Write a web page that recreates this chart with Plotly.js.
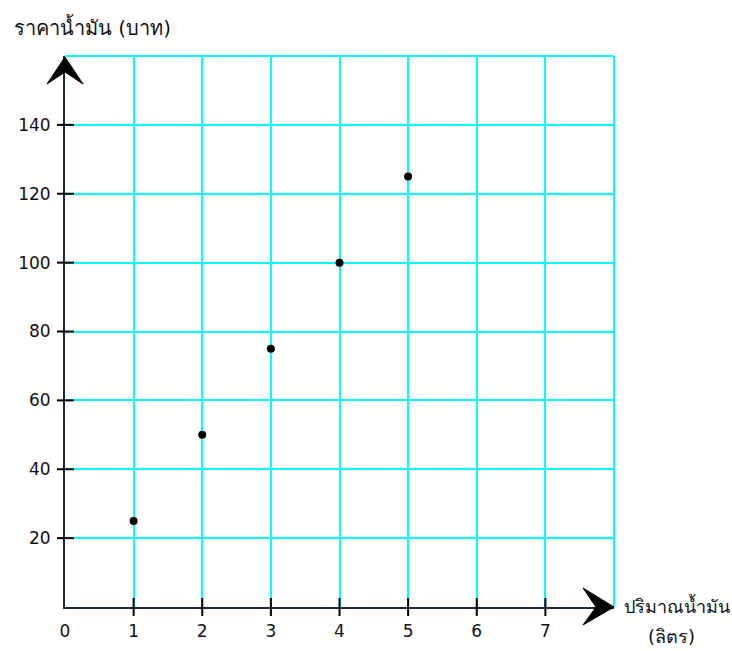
<!DOCTYPE html>
<html>
<head>
<meta charset="utf-8">
<script src="https://cdn.plot.ly/plotly-3.0.1.min.js"></script>
<style>html,body{margin:0;padding:0;background:#fff;}#chart{width:732px;height:651px;}</style>
</head>
<body>
<div id="chart"></div>
<script>
// Data
const liters = [1, 2, 3, 4, 5];
const prices = [25, 50, 75, 100, 125];
const xTickVals = [0, 1, 2, 3, 4, 5, 6, 7, 8];
const xTickText = ['0', '1', '2', '3', '4', '5', '6', '7', ''];
const yTickVals = [20, 40, 60, 80, 100, 120, 140, 160];
const yTickText = ['20', '40', '60', '80', '100', '120', '140', ''];
const xMarkTicks = [1, 2, 3, 4, 5, 6, 7];
const yMarkTicks = [20, 40, 60, 80, 100, 120, 140];
const yTitle = 'ราคาน้ำมัน (บาท)';
const xTitle1 = 'ปริมาณน้ำมัน';
const xTitle2 = '(ลิตร)';

const FONT = 'DejaVu Sans, Noto Sans, sans-serif';
const AXIS_COLOR = '#1c2b3a';
const GRID = '#00ffff';

const shapes = [];
// edge grid lines (top and right of the grid)
shapes.push({type: 'line', xref: 'paper', yref: 'paper', x0: 0, x1: 1, y0: 1, y1: 1,
  line: {color: GRID, width: 2}, layer: 'below'});
shapes.push({type: 'line', xref: 'paper', yref: 'paper', x0: 1, x1: 1, y0: 0, y1: 1,
  line: {color: GRID, width: 2}, layer: 'below'});
xMarkTicks.forEach(v => shapes.push({
  type: 'line', xref: 'x', yref: 'paper', ysizemode: 'pixel', yanchor: 0,
  x0: v, x1: v, y0: -9, y1: 9, line: {color: '#000', width: 2}, layer: 'above'
}));
yMarkTicks.forEach(v => shapes.push({
  type: 'line', xref: 'paper', yref: 'y', xsizemode: 'pixel', xanchor: 0,
  y0: v, y1: v, x0: -8, x1: 9, line: {color: '#000', width: 2}, layer: 'above'
}));
// arrowheads
shapes.push({
  type: 'path', xref: 'paper', yref: 'paper', xsizemode: 'pixel', ysizemode: 'pixel',
  xanchor: 0, yanchor: 1,
  path: 'M0,-1 L-18,-28 L0,-16 L18,-28 Z',
  fillcolor: '#000', line: {color: '#000', width: 1}, layer: 'above'
});
shapes.push({
  type: 'path', xref: 'paper', yref: 'paper', xsizemode: 'pixel', ysizemode: 'pixel',
  xanchor: 1, yanchor: 0,
  path: 'M0,0 L-31,19 L-18,0 L-31,-18 Z',
  fillcolor: '#000', line: {color: '#000', width: 1}, layer: 'above'
});

const data = [{
  type: 'scatter', mode: 'markers', x: liters, y: prices,
  marker: {color: '#000', size: 8}, cliponaxis: false, hoverinfo: 'skip'
}];

const layout = {
  width: 732, height: 651,
  margin: {l: 65, r: 118, t: 56, b: 44},
  paper_bgcolor: '#fff', plot_bgcolor: '#fff',
  showlegend: false,
  font: {family: FONT, size: 17, color: '#111'},
  xaxis: {
    range: [0, 8], tickmode: 'array', tickvals: xTickVals, ticktext: xTickText,
    showgrid: true, gridcolor: GRID, gridwidth: 2, zeroline: false,
    showline: true, linecolor: AXIS_COLOR, linewidth: 2,
    ticks: '', ticklabelstandoff: 8, fixedrange: true,
    tickfont: {family: FONT, size: 17, color: '#111'}
  },
  yaxis: {
    range: [0, 160], tickmode: 'array', tickvals: yTickVals, ticktext: yTickText,
    showgrid: true, gridcolor: GRID, gridwidth: 2, zeroline: false,
    showline: true, linecolor: AXIS_COLOR, linewidth: 2,
    ticks: '', ticklabelstandoff: 9, fixedrange: true,
    tickfont: {family: FONT, size: 17, color: '#111'}
  },
  shapes: shapes,
  annotations: [
    {text: yTitle, xref: 'paper', yref: 'paper', x: -0.0965, y: 1.0526,
     xanchor: 'left', yanchor: 'middle', showarrow: false,
     font: {family: FONT, size: 20, color: '#111'}},
    {text: xTitle1, xref: 'paper', yref: 'paper', x: 1.0146, y: 0.002,
     xanchor: 'left', yanchor: 'middle', showarrow: false,
     font: {family: FONT, size: 18, color: '#111'}},
    {text: xTitle2, xref: 'paper', yref: 'paper', x: 1.1056, y: -0.054,
     xanchor: 'center', yanchor: 'middle', showarrow: false,
     font: {family: FONT, size: 18, color: '#111'}}
  ]
};

Plotly.newPlot('chart', data, layout, {displayModeBar: false, staticPlot: true});
</script>
</body>
</html>
